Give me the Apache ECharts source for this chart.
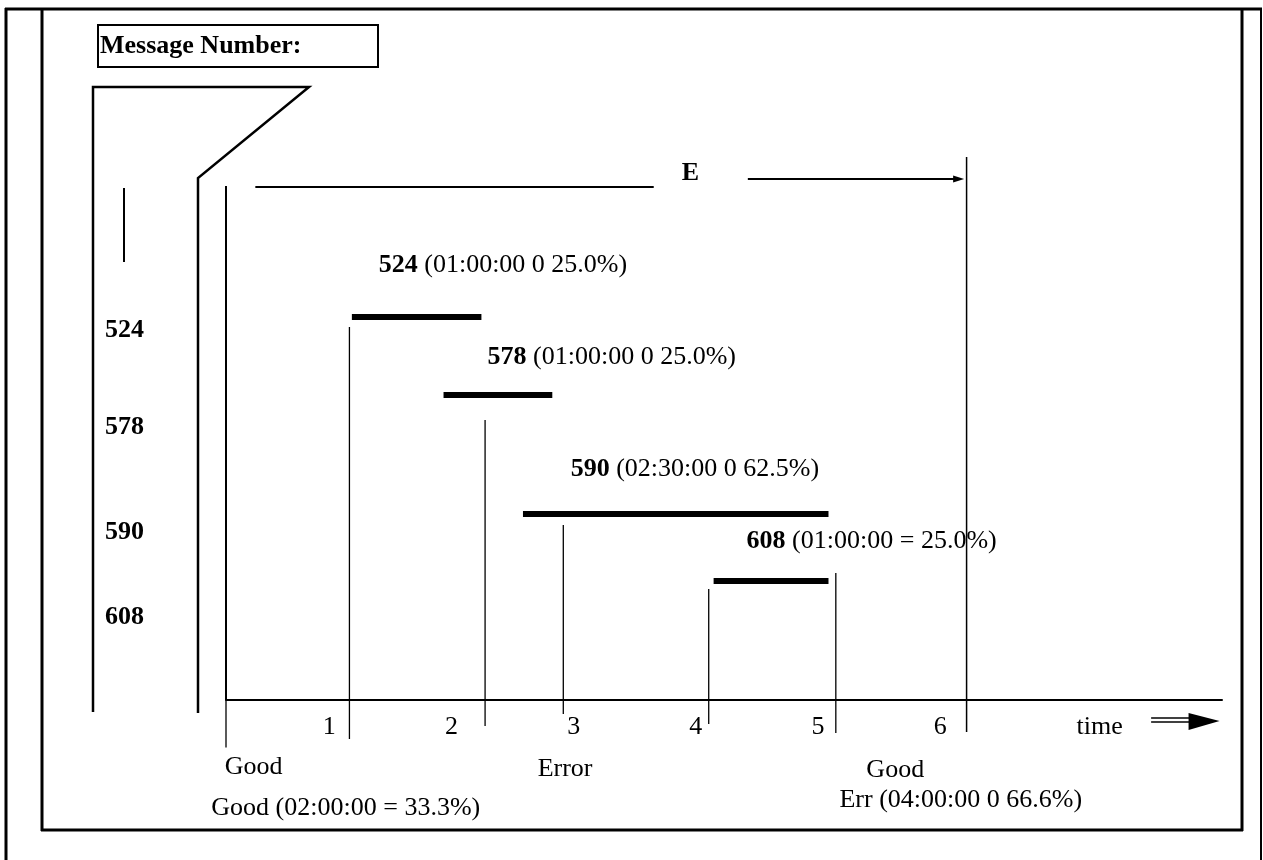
<!DOCTYPE html>
<html>
<head>
<meta charset="utf-8">
<title>Message Number timeline</title>
<script src="https://cdn.jsdelivr.net/npm/echarts@6/dist/echarts.min.js"></script>
<style>
  html, body { margin: 0; padding: 0; background: #fff; }
  #main { width: 1263px; height: 860px; }
</style>
</head>
<body>
<div id="main"></div>
<script>
// x axis = hours, y axis = row height ("level")
var messages = ['524', '578', '590', '608'];
var startHour = [1.03, 1.78, 2.43, 3.99];
var endHour = [2.09, 2.67, 4.93, 4.93];
var barLevel = [7.66, 6.10, 3.72, 2.38];
var durations = ['(01:00:00 0 25.0%)', '(01:00:00 0 25.0%)', '(02:30:00 0 62.5%)', '(01:00:00 = 25.0%)'];
var noteHour = [1.25, 2.14, 2.82, 4.26];
var noteLevel = [8.70, 6.86, 4.62, 3.18];
var rowLabelLevel = [7.40, 5.46, 3.36, 1.66];

// event markers crossing the time axis
var eventHour = [1.01, 2.12, 2.76, 3.95, 4.99, 6.06];
var eventTop = [7.46, 5.60, 3.50, 2.22, 2.54, 10.86];
var eventBottom = [-0.78, -0.52, -0.28, -0.48, -0.66, -0.64];

var tickLabels = ['1', '2', '3', '4', '5', '6'];

// texts under the axis
var statusText = ['Good', 'Error', 'Good', 'Good (02:00:00 = 33.3%)', 'Err (04:00:00 0 66.6%)'];
var statusHour = [-0.01, 2.55, 5.24, -0.12, 5.02];
var statusLevel = [-1.34, -1.38, -1.40, -2.16, -2.0];

// E span on top: left segment, label, arrow
var spanLine = [0.24, 3.50, 10.26];
var spanLabel = [3.80, 10.54];
var spanArrow = [4.27, 6.04, 10.42];

var serif = 'Liberation Serif';
var black = '#000';
var fs = 26;

function txt(x, y, text, opts) {
  var st = {
    text: text, fill: black, fontFamily: serif, fontSize: fs,
    fontWeight: opts && opts.bold ? 'bold' : 'normal',
    align: (opts && opts.align) || 'left', verticalAlign: 'middle',
    textAlign: (opts && opts.align) || 'left', textVerticalAlign: 'middle'
  };
  if (opts && opts.rich) st.rich = opts.rich;
  return { type: 'text', x: x, y: y, style: st };
}

function seg(a, b, w) {
  return { type: 'line', shape: { x1: a[0], y1: a[1], x2: b[0], y2: b[1] }, style: { stroke: black, lineWidth: w } };
}

var myChart = echarts.init(document.getElementById('main'));

myChart.setOption({
  backgroundColor: '#fff',
  animation: false,
  grid: { left: 226, right: 41, top: 100, bottom: 160 },
  xAxis: {
    type: 'value',
    min: 0,
    max: 8.15,
    interval: 1,
    axisLine: { lineStyle: { color: black, width: 2 } },
    axisTick: { show: false },
    splitLine: { show: false },
    axisLabel: {
      margin: 14,
      color: black,
      fontFamily: serif,
      fontSize: fs,
      padding: [0, 38, 0, 0],
      showMaxLabel: false,
      formatter: function (v) { return tickLabels[v - 1] || ''; }
    }
  },
  yAxis: { type: 'value', min: 0, max: 12, show: false, splitLine: { show: false } },
  graphic: [
    // page frames
    { type: 'line', shape: { x1: 6, y1: 8, x2: 6, y2: 860 }, style: { stroke: black, lineWidth: 3 } },
    { type: 'line', shape: { x1: 5, y1: 9, x2: 1262, y2: 9 }, style: { stroke: black, lineWidth: 3 } },
    { type: 'line', shape: { x1: 1261, y1: 9, x2: 1261, y2: 860 }, style: { stroke: black, lineWidth: 2 } },
    { type: 'line', shape: { x1: 42, y1: 9, x2: 42, y2: 831 }, style: { stroke: black, lineWidth: 3 } },
    { type: 'line', shape: { x1: 41, y1: 830, x2: 1243, y2: 830 }, style: { stroke: black, lineWidth: 3 } },
    { type: 'line', shape: { x1: 1242, y1: 9, x2: 1242, y2: 831 }, style: { stroke: black, lineWidth: 3 } },
    // Message Number box
    { type: 'rect', shape: { x: 98, y: 25, width: 280, height: 42 }, style: { fill: 'none', stroke: black, lineWidth: 2 } },
    { type: 'text', x: 100, y: 46, style: { text: 'Message Number:', fill: black, fontFamily: serif, fontSize: fs, fontWeight: 'bold', align: 'left', verticalAlign: 'middle', textAlign: 'left', textVerticalAlign: 'middle' } },
    // left bracket shape
    { type: 'polyline', shape: { points: [[93, 712], [93, 87], [309, 87], [198, 178], [198, 713]] }, style: { fill: 'none', stroke: black, lineWidth: 2.5 } },
    { type: 'line', shape: { x1: 124, y1: 188, x2: 124, y2: 262 }, style: { stroke: black, lineWidth: 2 } }
  ],
  series: [
    {
      // message bars
      type: 'custom',
      silent: true,
      data: messages.map(function (m, i) { return [startHour[i], barLevel[i], endHour[i]]; }),
      renderItem: function (params, api) {
        var a = api.coord([api.value(0), api.value(1)]);
        var b = api.coord([api.value(2), api.value(1)]);
        return seg(a, b, 6);
      }
    },
    {
      // bar notes and row labels
      type: 'custom',
      silent: true,
      data: messages.map(function (m, i) { return [noteHour[i], noteLevel[i]]; }),
      renderItem: function (params, api) {
        var i = params.dataIndex;
        var p = api.coord([api.value(0), api.value(1)]);
        var q = api.coord([0, rowLabelLevel[i]]);
        var rich = {
          b: { fontFamily: serif, fontSize: fs, fontWeight: 'bold', fill: black },
          n: { fontFamily: serif, fontSize: fs, fill: black }
        };
        return {
          type: 'group',
          children: [
            txt(p[0], p[1], '{b|' + messages[i] + '}{n| ' + durations[i] + '}', { rich: rich }),
            txt(q[0] - 121, q[1], messages[i], { bold: true })
          ]
        };
      }
    },
    {
      // event markers
      type: 'custom',
      silent: true,
      data: eventHour.map(function (h, i) { return [h, eventTop[i], eventBottom[i]]; }),
      renderItem: function (params, api) {
        var a = api.coord([api.value(0), api.value(1)]);
        var b = api.coord([api.value(0), api.value(2)]);
        return seg(a, b, params.dataIndex === 5 ? 1.5 : 1.3);
      }
    },
    {
      // status texts under the axis
      type: 'custom',
      silent: true,
      data: statusText.map(function (t, i) { return [statusHour[i], statusLevel[i]]; }),
      renderItem: function (params, api) {
        var p = api.coord([api.value(0), api.value(1)]);
        return txt(p[0], p[1], statusText[params.dataIndex]);
      }
    },
    {
      // origin line, E span, time arrow
      type: 'custom',
      silent: true,
      data: [[0, 0]],
      renderItem: function (params, api) {
        var o0 = api.coord([0, 10.28]);
        var o1 = api.coord([0, 0]);
        var o2 = api.coord([0, -0.95]);
        var s0 = api.coord([spanLine[0], spanLine[2]]);
        var s1 = api.coord([spanLine[1], spanLine[2]]);
        var e = api.coord(spanLabel);
        var a0 = api.coord([spanArrow[0], spanArrow[2]]);
        var a1 = api.coord([spanArrow[1], spanArrow[2]]);
        var t = api.coord([6.96, -0.54]);
        var d0 = api.coord([7.57, -0.42]);
        var tip = api.coord([8.13, -0.42]);
        return {
          type: 'group',
          children: [
            seg(o0, o1, 2),
            seg(o1, o2, 1.3),
            seg(s0, s1, 2),
            txt(e[0], e[1], 'E', { bold: true, align: 'center' }),
            seg(a0, [a1[0] - 9, a1[1]], 2),
            { type: 'polygon', shape: { points: [[a1[0], a1[1]], [a1[0] - 11, a1[1] - 3.5], [a1[0] - 11, a1[1] + 3.5]] }, style: { fill: black } },
            txt(t[0], t[1], 'time'),
            seg([d0[0], tip[1] - 3], [tip[0] - 28, tip[1] - 3], 1.6),
            seg([d0[0], tip[1] + 1], [tip[0] - 28, tip[1] + 1], 1.6),
            { type: 'polygon', shape: { points: [[tip[0], tip[1]], [tip[0] - 31, tip[1] - 8], [tip[0] - 31, tip[1] + 9]] }, style: { fill: black } }
          ]
        };
      }
    }
  ]
});
</script>
</body>
</html>
